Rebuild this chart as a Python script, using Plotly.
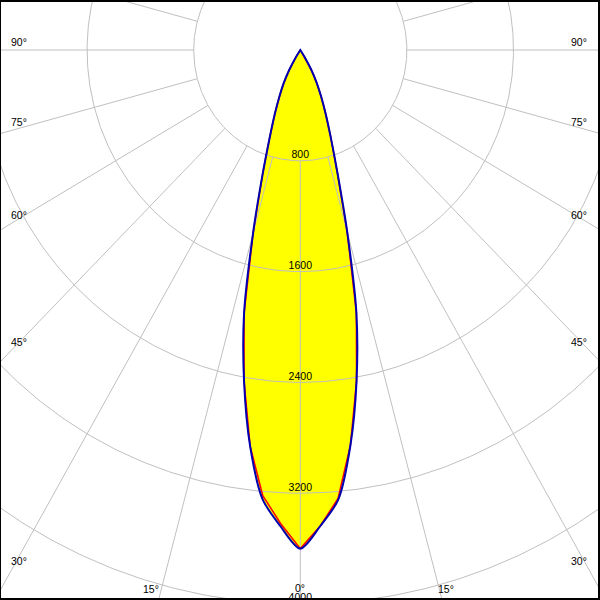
import numpy as np
import plotly.graph_objects as go

# ---- data (cd) ----
angles = [0, 2.5, 5, 7.5, 10, 12.5, 15, 17.5, 20, 22.5, 25, 27.5, 30, 32.5, 35,
          40, 45, 50, 55, 60, 65, 70, 75, 80, 85, 90]
c90 = [3600, 3440, 3260, 2880, 2430, 1945, 1360, 922, 664, 496, 367, 265, 163, 60, 0,
       0, 0, 0, 0, 0, 0, 0, 0, 0, 0, 0]
c270 = [3600, 3440, 3255, 2885, 2430, 1950, 1370, 940, 670, 500, 372, 270, 165, 60, 0,
        0, 0, 0, 0, 0, 0, 0, 0, 0, 0, 0]
c0 = [3600, 3440, 3250, 2880, 2430, 1945, 1360, 922, 664, 496, 367, 265, 163, 60, 0,
      0, 0, 0, 0, 0, 0, 0, 0, 0, 0, 0]
c180 = [3600, 3420, 3230, 2885, 2430, 1950, 1370, 940, 670, 500, 372, 270, 165, 60, 0,
        0, 0, 0, 0, 0, 0, 0, 0, 0, 0, 0]
ring_values = [800, 1600, 2400, 3200, 4000, 4800]
ring_labels = ["800", "1600", "2400", "3200", "4000", "4800"]
angle_labels = ["0°", "15°", "30°", "45°", "60°", "75°", "90°"]

# ---- geometry helpers ----
CX, CY = 300.3, 50.0        # pixel centre of the diagram
SX, SY = 106.6 / 800, 110.8 / 800   # px per cd
L, R, T, B = 1, 2, 2, 2     # black frame
W = H = 600


def polar_xy(r, deg):
    t = np.radians(np.asarray(deg, dtype=float))
    r = np.asarray(r, dtype=float)
    return r * np.sin(t), -r * np.cos(t)


def curve(right, left):
    a = np.array(angles)
    deg = np.concatenate([-a[::-1], a[1:]])
    r = np.concatenate([np.array(left)[::-1], np.array(right)[1:]])
    return polar_xy(r, deg)


xr = [(L - CX) / SX, (W - R - CX) / SX]
yr = [-(H - B - CY) / SY, (CY - T) / SY]

fig = go.Figure()

# yellow fill
bx, by = curve(c90, c270)
fig.add_trace(go.Scatter(x=bx, y=by, mode="lines", fill="toself", fillcolor="#ffff00",
                         line=dict(width=0, color="rgba(0,0,0,0)", shape="spline", smoothing=0.8),
                         hoverinfo="skip", showlegend=False))

# grid rings
gx, gy = [], []
tt = np.linspace(0, 360, 721)
for rv in ring_values:
    x, y = polar_xy(np.full_like(tt, rv), tt)
    gx += list(x) + [None]
    gy += list(y) + [None]
# radial lines
for a in range(0, 360, 15):
    x, y = polar_xy([ring_values[0], 9000], [a, a])
    gx += list(x) + [None]
    gy += list(y) + [None]
fig.add_trace(go.Scatter(x=gx, y=gy, mode="lines", line=dict(color="#c0c0c0", width=1),
                         hoverinfo="skip", showlegend=False))

# red (C0-C180)
rx, ry = curve(c0, c180)
fig.add_trace(go.Scatter(x=rx, y=ry, mode="lines", line=dict(color="#ff0000", width=1.5),
                         hoverinfo="skip", showlegend=False))
# blue (C90-C270)
fig.add_trace(go.Scatter(x=bx, y=by, mode="lines",
                         line=dict(color="#0000b0", width=2, shape="spline", smoothing=0.8),
                         hoverinfo="skip", showlegend=False))

# ring labels
lx, ly = polar_xy(ring_values, [0] * len(ring_values))
fig.add_trace(go.Scatter(x=lx, y=ly, mode="text", text=ring_labels, textposition="top center",
                         textfont=dict(family="Liberation Sans, Arial", size=10.5, color="black"),
                         hoverinfo="skip", showlegend=False))

# angle labels (pixel positions)
def px2paper(px, py):
    return (px - L) / (W - L - R), 1 - (py - T) / (H - T - B)

left_pos = {"90°": 41.5, "75°": 121.5, "60°": 215, "45°": 342, "30°": 561}
annos = []
font = dict(family="Liberation Sans, Arial", size=10.5, color="black")
for lab in angle_labels:
    if lab in left_pos:
        py = left_pos[lab]
        x0, y0 = px2paper(9, py)
        x1, _ = px2paper(589, py)
        annos.append(dict(x=x0, y=y0, xref="paper", yref="paper", text=lab, showarrow=False,
                          xanchor="left", yanchor="middle", font=font))
        annos.append(dict(x=x1, y=y0, xref="paper", yref="paper", text=lab, showarrow=False,
                          xanchor="right", yanchor="middle", font=font))
x15l, y15 = px2paper(151, 588.5)
x15r, _ = px2paper(446, 588.5)
x0c, y0c = px2paper(300, 588)
annos.append(dict(x=x15l, y=y15, xref="paper", yref="paper", text="15°", showarrow=False,
                  xanchor="center", yanchor="middle", font=font))
annos.append(dict(x=x15r, y=y15, xref="paper", yref="paper", text="15°", showarrow=False,
                  xanchor="center", yanchor="middle", font=font))
annos.append(dict(x=x0c, y=y0c, xref="paper", yref="paper", text="0°", showarrow=False,
                  xanchor="center", yanchor="middle", font=font))

fig.update_layout(
    width=W, height=H,
    margin=dict(l=L, r=R, t=T, b=B, pad=0),
    paper_bgcolor="black", plot_bgcolor="white",
    xaxis=dict(range=xr, visible=False, fixedrange=True),
    yaxis=dict(range=yr, visible=False, fixedrange=True),
    annotations=annos,
    showlegend=False,
)
fig.write_html("out.html", config={"displayModeBar": False})

# remove the default page margin so the figure sits at the window origin
with open("out.html", "r", encoding="utf-8") as f:
    html = f.read()
html = html.replace("<body>", '<body style="margin:0;padding:0;overflow:hidden">', 1)
html = html.replace("<head>", "<head><style>html,body{margin:0;padding:0;overflow:hidden}</style>", 1)
with open("out.html", "w", encoding="utf-8") as f:
    f.write(html)
